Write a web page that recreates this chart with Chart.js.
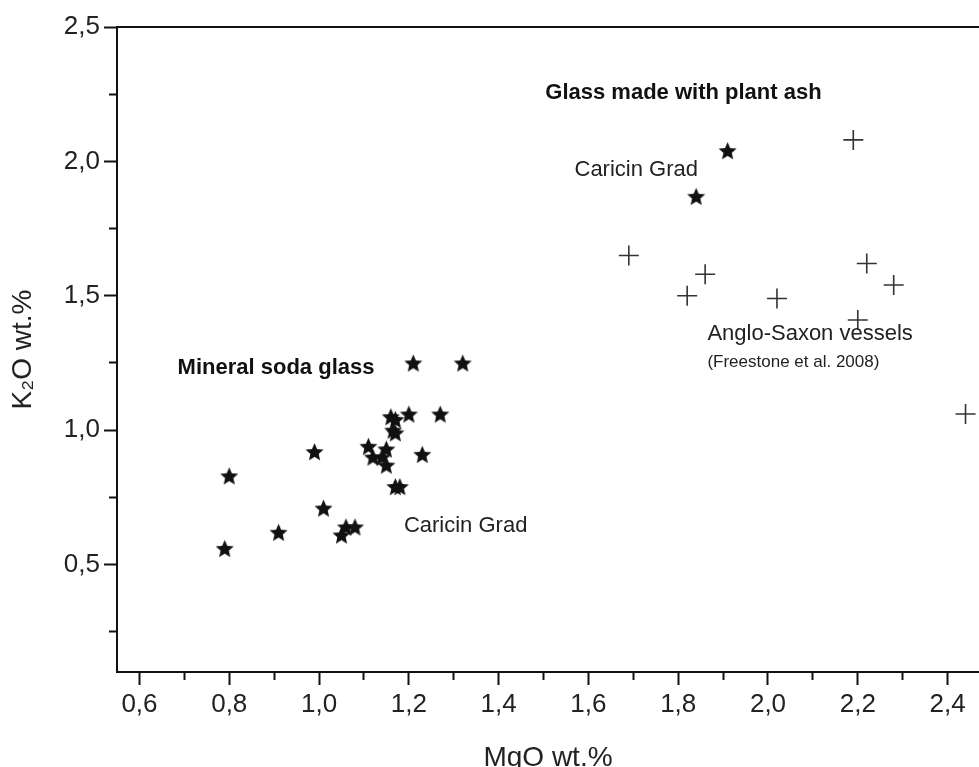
<!DOCTYPE html>
<html>
<head>
<meta charset="utf-8">
<script src="https://cdn.jsdelivr.net/npm/chart.js@4.4.1/dist/chart.umd.min.js"></script>
<style>
html,body{margin:0;padding:0;background:#fff;}
#wrap{width:979px;height:767px;position:relative;}
</style>
</head>
<body>
<div id="wrap"><canvas id="c" width="979" height="767"></canvas></div>
<script>
// ---- data ----
const mineralSodaMgO = [0.80, 0.79, 0.91, 0.99, 1.01, 1.05, 1.06, 1.08, 1.11, 1.12, 1.21, 1.32, 1.16, 1.17, 1.20, 1.27, 1.165, 1.17, 1.15, 1.14, 1.15, 1.23, 1.17, 1.18];
const mineralSodaK2O = [0.83, 0.56, 0.62, 0.92, 0.71, 0.61, 0.64, 0.64, 0.94, 0.90, 1.25, 1.25, 1.05, 1.04, 1.06, 1.06, 1.00, 0.99, 0.93, 0.90, 0.87, 0.91, 0.79, 0.79];

const plantAshMgO = [1.84, 1.91];
const plantAshK2O = [1.87, 2.04];

const angloSaxonMgO = [2.19, 1.69, 1.86, 1.82, 2.02, 2.22, 2.28, 2.20, 2.44];
const angloSaxonK2O = [2.08, 1.65, 1.58, 1.50, 1.49, 1.62, 1.54, 1.41, 1.06];

const xTickLabels = ["0,6", "0,8", "1,0", "1,2", "1,4", "1,6", "1,8", "2,0", "2,2", "2,4"];
const yTickLabels = ["0,5", "1,0", "1,5", "2,0", "2,5"];

const xTitle = "MgO wt.%";
const yTitle = "K\u2082O wt.%";

const annotationTexts = ["Glass made with plant ash", "Caricin Grad", "Anglo-Saxon vessels", "(Freestone et al. 2008)", "Mineral soda glass", "Caricin Grad"];
const annotationMgO   = [1.504, 1.569, 1.865, 1.865, 0.685, 1.189];
const annotationK2O   = [2.256, 1.969, 1.359, 1.251, 1.233, 0.645];

// ---- helpers ----
const zip = (xs, ys) => xs.map((x, i) => ({x: x, y: ys[i]}));
const FONT = "'Liberation Sans', Arial, Helvetica, sans-serif";

function makeStar(r) {
  const s = Math.ceil(r * 2) + 2;
  const c = document.createElement('canvas');
  c.width = s; c.height = s;
  const g = c.getContext('2d');
  g.translate(s / 2, s / 2 + r * 0.1);
  g.beginPath();
  for (let i = 0; i < 10; i++) {
    const rad = (i % 2 === 0) ? r : r * 0.46;
    const a = -Math.PI / 2 + i * Math.PI / 5;
    g.lineTo(rad * Math.cos(a), rad * Math.sin(a));
  }
  g.closePath();
  g.fillStyle = '#111';
  g.fill();
  return c;
}
const starImg = makeStar(9.5);

const isMajorX = v => Math.abs(v * 5 - Math.round(v * 5)) < 1e-6;
const isMajorY = v => Math.abs(v * 2 - Math.round(v * 2)) < 1e-6;

const annotationStyles = [
  {font: 'bold 22px ' + FONT, color: '#111'},
  {font: '22px ' + FONT, color: '#222'},
  {font: '22px ' + FONT, color: '#222'},
  {font: '17px ' + FONT, color: '#222'},
  {font: 'bold 22px ' + FONT, color: '#111'},
  {font: '22px ' + FONT, color: '#222'}
];

const decorPlugin = {
  id: 'decor',
  afterDraw(chart) {
    const {ctx, chartArea, scales} = chart;
    ctx.save();
    // top frame line
    ctx.strokeStyle = '#111';
    ctx.lineWidth = 2;
    ctx.beginPath();
    ctx.moveTo(chartArea.left, chartArea.top);
    ctx.lineTo(chart.width, chartArea.top);
    ctx.stroke();
    // text annotations anchored in data units
    ctx.textBaseline = 'middle';
    ctx.textAlign = 'left';
    annotationTexts.forEach((t, i) => {
      ctx.font = annotationStyles[i].font;
      ctx.fillStyle = annotationStyles[i].color;
      ctx.fillText(t, scales.x.getPixelForValue(annotationMgO[i]), scales.y.getPixelForValue(annotationK2O[i]));
    });
    ctx.restore();
  }
};

new Chart(document.getElementById('c'), {
  type: 'scatter',
  data: {
    datasets: [
      {
        label: 'Mineral soda glass (Caricin Grad)',
        data: zip(mineralSodaMgO, mineralSodaK2O),
        pointStyle: starImg,
        pointRadius: 9
      },
      {
        label: 'Glass made with plant ash (Caricin Grad)',
        data: zip(plantAshMgO, plantAshK2O),
        pointStyle: starImg,
        pointRadius: 9
      },
      {
        label: 'Anglo-Saxon vessels',
        data: zip(angloSaxonMgO, angloSaxonK2O),
        pointStyle: 'cross',
        pointRadius: 10,
        borderColor: '#333',
        backgroundColor: '#333',
        pointBorderWidth: 1.6
      }
    ]
  },
  options: {
    responsive: false,
    animation: false,
    events: [],
    devicePixelRatio: 1,
    layout: {autoPadding: false, padding: {top: 27, left: 0, right: 0, bottom: 0}},
    plugins: {legend: {display: false}, tooltip: {enabled: false}, title: {display: false}},
    scales: {
      x: {
        type: 'linear',
        position: 'bottom',
        min: 0.55,
        max: 2.47,
        afterFit: s => { s.height = 95; s.paddingRight = 0; s.paddingLeft = 0; },
        border: {display: true, color: '#111', width: 2},
        grid: {
          display: true,
          drawOnChartArea: false,
          drawTicks: true,
          tickLength: 13,
          tickWidth: 2,
          tickColor: '#111',
          tickBorderDash: ctx => (ctx.tick && isMajorX(ctx.tick.value)) ? [] : [7, 60]
        },
        ticks: {
          stepSize: 0.1,
          includeBounds: false,
          autoSkip: false,
          maxRotation: 0,
          padding: 4,
          color: '#222',
          font: {family: FONT, size: 26},
          callback: v => {
            const s = Number(v).toFixed(1).replace('.', ',');
            return (isMajorX(v) && xTickLabels.includes(s)) ? s : '';
          }
        },
        title: {
          display: true,
          text: xTitle,
          color: '#222',
          font: {family: FONT, size: 28, lineHeight: 0.6},
          padding: {top: 0, bottom: 0}
        }
      },
      y: {
        type: 'linear',
        position: 'left',
        min: 0.1,
        max: 2.5,
        afterFit: s => { s.width = 117; },
        border: {display: true, color: '#111', width: 2},
        grid: {
          display: true,
          drawOnChartArea: false,
          drawTicks: true,
          tickLength: 13,
          tickWidth: 2,
          tickColor: '#111',
          tickBorderDash: ctx => (ctx.tick && isMajorY(ctx.tick.value)) ? [] : [0, 5, 7, 60]
        },
        ticks: {
          stepSize: 0.25,
          includeBounds: false,
          autoSkip: false,
          padding: 4,
          color: '#222',
          font: {family: FONT, size: 26},
          callback: v => {
            const s = Number(v).toFixed(1).replace('.', ',');
            return (isMajorY(v) && yTickLabels.includes(s)) ? s : '';
          }
        },
        title: {
          display: true,
          text: yTitle,
          color: '#222',
          font: {family: FONT, size: 28},
          padding: {top: 6, bottom: 0}
        }
      }
    }
  },
  plugins: [decorPlugin]
});
</script>
</body>
</html>
